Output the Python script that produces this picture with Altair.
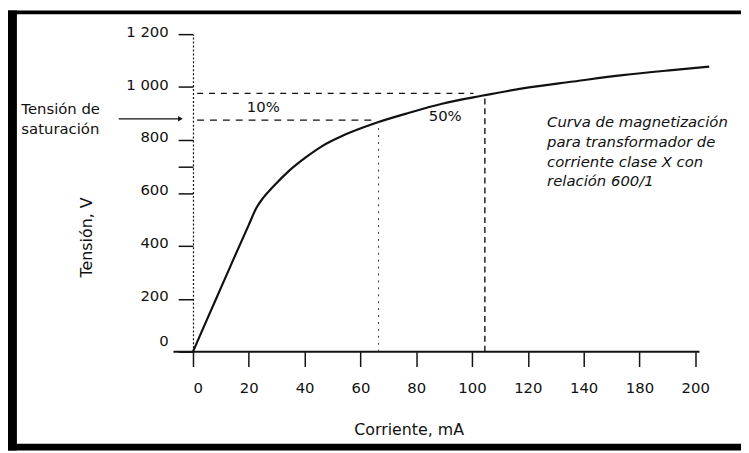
import altair as alt
import pandas as pd

# ---- data (x in axis units as drawn, y in volts) ----
CURVE_X = [0, 5, 10, 15, 20, 22.7, 25, 28.6, 34.5, 40.4, 46.3, 53.4, 60.4, 66.5, 77.5, 89.3, 103.4, 118.7, 136.4, 154, 171.7, 185]
CURVE_Y = [0, 121, 241, 361, 479, 543, 579, 622, 684, 734, 777, 815, 845, 868, 903, 937, 967, 996, 1021, 1045, 1064, 1077]

X_TICK_POS = [0, 20, 40, 60, 80, 100, 120, 140, 160, 180]
X_TICK_LABELS = ["0", "20", "40", "60", "80", "100", "120", "140", "180", "200"]
Y_TICK_POS = [0, 200, 400, 600, 700, 800, 1000, 1200]
Y_TICK_LABELS = ["0", "200", "400", "600", "", "800", "1 000", "1 200"]

SAT_V = 875          # tension de saturacion
SAT_I = 66.5
TEN_V = 976          # 10 % point
TEN_I = 104.6

NOTE_LINES = ["Curva de magnetización", "para transformador de", "corriente clase X con", "relación 600/1"]
NOTE_Y = [866, 791, 716, 645]
NOTE_X = 126.9

LEFT_LINES = ["Tensión de", "saturación"]
LEFT_Y = [916, 841]
LEFT_X = -61.5

FONT = "DejaVu Sans"
INK = "#111111"


def label_expr(pos, labels):
    expr = "datum.label"
    for p, l in zip(reversed(pos), reversed(labels)):
        expr = f"datum.value == {p} ? '{l}' : ({expr})"
    return expr


xs = alt.Scale(domain=[0, 181.5], nice=False, zero=False)
ys = alt.Scale(domain=[0, 1200], nice=False, zero=False)

x_axis = alt.Axis(
    values=X_TICK_POS, labelExpr=label_expr(X_TICK_POS, X_TICK_LABELS),
    domain=False, grid=False, ticks=True, tickSize=15, tickWidth=1.5, tickColor=INK,
    labelFont=FONT, labelFontSize=15, labelColor=INK, labelPadding=14,
    titleFont=FONT, titleFontSize=16, titleFontWeight="normal",
    titleColor=INK, titleX=218, titleY=79, titleBaseline="middle", titleAnchor="middle",
)
y_axis = alt.Axis(
    values=Y_TICK_POS, labelExpr=label_expr(Y_TICK_POS, Y_TICK_LABELS),
    domain=True, domainColor=INK, domainWidth=1.2, domainDash=[2, 2],
    grid=False, ticks=True, tickSize=15, tickWidth=1.5, tickColor=INK,
    labelFont=FONT, labelFontSize=15, labelColor=INK, labelPadding=10, labelOffset=-3,
    labelBaseline={"condition": {"test": "datum.value == 0", "value": "bottom"}, "value": "middle"},
    titleFont=FONT, titleFontSize=16, titleFontWeight="normal",
    titleColor=INK, titleX=-108, titleY=205, titleAngle=270,
    titleAlign="center", titleBaseline="middle",
)


def X(field="x"):
    return alt.X(f"{field}:Q", scale=xs, axis=x_axis, title="Corriente, mA")


def Y(field="y"):
    return alt.Y(f"{field}:Q", scale=ys, axis=y_axis, title="Tensión, V")


curve_df = pd.DataFrame({"x": CURVE_X, "y": CURVE_Y})
curve = alt.Chart(curve_df).mark_line(color=INK, strokeWidth=2.2, interpolate="monotone").encode(
    x=X(), y=Y())

# x axis baseline (extends a little left of the y axis)
baseline = alt.Chart(pd.DataFrame({"x": [-7], "x2": [181.5], "y": [0]})).mark_rule(
    color=INK, strokeWidth=2).encode(x=X(), x2="x2:Q", y=Y())

# reference lines
h_sat = alt.Chart(pd.DataFrame({"x": [1.5], "x2": [SAT_I - 1], "y": [SAT_V]})).mark_rule(
    color=INK, strokeWidth=1.2, strokeDash=[7, 6]).encode(x=X(), x2="x2:Q", y=Y())
v_sat = alt.Chart(pd.DataFrame({"x": [SAT_I], "y": [0], "y2": [SAT_V - 8]})).mark_rule(
    color="#333333", strokeWidth=1, strokeDash=[2, 5]).encode(x=X(), y=Y(), y2="y2:Q")
h_ten = alt.Chart(pd.DataFrame({"x": [1.5], "x2": [100.5], "y": [TEN_V]})).mark_rule(
    color=INK, strokeWidth=1.2, strokeDash=[6, 6]).encode(x=X(), x2="x2:Q", y=Y())
v_ten = alt.Chart(pd.DataFrame({"x": [TEN_I], "y": [0], "y2": [TEN_V - 10]})).mark_rule(
    color=INK, strokeWidth=1.4, strokeDash=[6, 4]).encode(x=X(), y=Y(), y2="y2:Q")

# arrow from "Tension de saturacion"
arrow_line = alt.Chart(pd.DataFrame({"x": [-26.6], "x2": [-5.0], "y": [SAT_V + 5]})).mark_rule(
    color=INK, strokeWidth=1.3).encode(x=X(), x2="x2:Q", y=Y())
arrow_head = alt.Chart(pd.DataFrame({"x": [-4.5], "y": [SAT_V + 5]})).mark_point(
    shape="triangle-right", filled=True, color=INK, size=30, opacity=1).encode(x=X(), y=Y())

left_txt = alt.Chart(pd.DataFrame({"x": [LEFT_X] * 2, "y": LEFT_Y, "t": LEFT_LINES})).mark_text(
    font=FONT, fontSize=15, color=INK, align="left", baseline="middle").encode(
    x=X(), y=Y(), text="t:N")

pct_txt = alt.Chart(pd.DataFrame({"x": [25.2, 90.4], "y": [923, 890], "t": ["10%", "50%"]})).mark_text(
    font=FONT, fontSize=15, color=INK, align="center", baseline="middle").encode(
    x=X(), y=Y(), text="t:N")

note_txt = alt.Chart(pd.DataFrame({"x": [NOTE_X] * 4, "y": NOTE_Y, "t": NOTE_LINES})).mark_text(
    font=FONT, fontSize=15, fontStyle="italic", color=INK, align="left", baseline="middle").encode(
    x=X(), y=Y(), text="t:N")

# scanned page frame
one = alt.Data(values=[{"a": 1}])
frame_left = alt.Chart(one).mark_rect(color="black").encode(
    x=alt.value(-187), x2=alt.value(-178), y=alt.value(-24), y2=alt.value(421))
frame_top = alt.Chart(one).mark_rect(color="black").encode(
    x=alt.value(-187), x2=alt.value(554), y=alt.value(-24), y2=alt.value(-20))
frame_bottom = alt.Chart(one).mark_rect(color="black").encode(
    x=alt.value(-187), x2=alt.value(554), y=alt.value(414), y2=alt.value(421))

chart = alt.layer(
    curve, baseline, h_sat, v_sat, h_ten, v_ten, arrow_line, arrow_head,
    left_txt, pct_txt, note_txt, frame_left, frame_top, frame_bottom,
).properties(
    width=512, height=321,
    autosize=alt.AutoSizeParams(type="none"),
    padding={"left": 187, "top": 24, "right": 42, "bottom": 100},
    background="white",
).configure_view(stroke=None)

chart.save("out.html", embed_options={"renderer": "svg", "actions": False})
